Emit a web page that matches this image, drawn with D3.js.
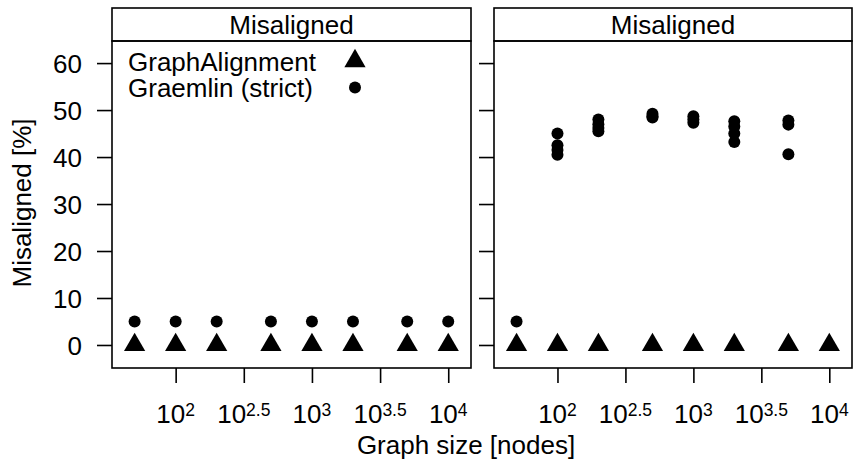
<!DOCTYPE html>
<html>
<head>
<meta charset="utf-8">
<script src="https://cdn.jsdelivr.net/npm/d3@7"></script>
<style>
  html, body { margin: 0; padding: 0; background: #fff; }
  svg { display: block; }
  text { font-family: "Liberation Sans", Arial, Helvetica, sans-serif; fill: #000; }
</style>
</head>
<body>
<svg id="chart" width="855" height="468"></svg>
<script>
// ---- data ----
const panelTitles = ["Misaligned", "Misaligned"];
const graphSizes = [50, 100, 200, 500, 1000, 2000, 5000, 10000];
const graphAlignmentLeft = [0, 0, 0, 0, 0, 0, 0, 0];
const graemlinLeft = [5, 5, 5, 5, 5, 5, 5, 5];
const graphAlignmentRight = [0, 0, 0, 0, 0, 0, 0, 0];
const graemlinRightSizes = [50, 100, 100, 100, 100, 200, 200, 200, 200, 500, 500, 500,
  1000, 1000, 1000, 2000, 2000, 2000, 2000, 5000, 5000, 5000];
const graemlinRightValues = [5, 45, 42.5, 41.5, 40.5, 48, 47, 46.2, 45.5, 49.2, 48.7, 48.4,
  48.7, 48, 47.3, 47.6, 46.5, 45, 43.2, 47.8, 46.9, 40.6];
const yTicks = [0, 10, 20, 30, 40, 50, 60];
const xTickExps = [2, 2.5, 3, 3.5, 4];
const legendLabels = ["GraphAlignment", "Graemlin (strict)"];
const xLabel = "Graph size [nodes]";
const yLabel = "Misaligned [%]";

// ---- layout ----
const svg = d3.select("#chart");
const fontSize = 26;
const panels = [
  { x0: 112, x1: 471, ga: graphAlignmentLeft, gaSizes: graphSizes,
    gr: graemlinLeft, grSizes: graphSizes, legend: true },
  { x0: 494, x1: 852, ga: graphAlignmentRight, gaSizes: graphSizes,
    gr: graemlinRightValues, grSizes: graemlinRightSizes, legend: false }
];
const stripTop = 8, stripBottom = 41, panelBottom = 368;

const y = d3.scaleLinear().domain([-4.9, 64.7]).range([panelBottom, stripBottom]);

const triSym = d3.symbol().type(d3.symbolTriangle).size(195);
const circleR = 6;

panels.forEach((p, i) => {
  const x = d3.scaleLog().domain([Math.pow(10, 1.533), Math.pow(10, 4.167)]).range([p.x0, p.x1]);
  const g = svg.append("g");

  // strip
  g.append("rect").attr("x", p.x0).attr("y", stripTop)
    .attr("width", p.x1 - p.x0).attr("height", stripBottom - stripTop)
    .attr("fill", "#fff").attr("stroke", "#000").attr("stroke-width", 1.6);
  g.append("text").attr("x", (p.x0 + p.x1) / 2).attr("y", 33.5)
    .attr("text-anchor", "middle").attr("font-size", fontSize).text(panelTitles[i]);

  // panel box
  g.append("rect").attr("x", p.x0).attr("y", stripBottom)
    .attr("width", p.x1 - p.x0).attr("height", panelBottom - stripBottom)
    .attr("fill", "none").attr("stroke", "#000").attr("stroke-width", 1.6);

  // y axis
  const yAxis = d3.axisLeft(y).tickValues(yTicks).tickSize(15).tickPadding(15)
    .tickFormat(i === 0 ? d3.format("d") : () => "");
  const ya = g.append("g").attr("transform", `translate(${p.x0},0)`).call(yAxis);
  ya.select(".domain").remove();
  ya.selectAll("line").attr("stroke", "#000").attr("stroke-width", 1.6);
  ya.selectAll("text").attr("font-size", fontSize).attr("font-family", "Liberation Sans, Arial, sans-serif")
    .attr("dy", "0.36em");

  // x axis
  const xAxis = d3.axisBottom(x).tickValues(xTickExps.map(e => Math.pow(10, e)))
    .tickSize(15).tickFormat(() => "");
  const xa = g.append("g").attr("transform", `translate(0,${panelBottom})`).call(xAxis);
  xa.select(".domain").remove();
  xa.selectAll("line").attr("stroke", "#000").attr("stroke-width", 1.6);
  xTickExps.forEach(e => {
    const t = g.append("text").attr("x", x(Math.pow(10, e))).attr("y", 422.5)
      .attr("text-anchor", "middle").attr("font-size", fontSize);
    t.append("tspan").text("10");
    t.append("tspan").attr("font-size", 17.5).attr("dy", -6.5).text(String(e));
  });

  // points
  g.selectAll(".tri").data(p.ga.map((v, k) => [p.gaSizes[k], v])).join("path")
    .attr("d", triSym)
    .attr("transform", d => `translate(${x(d[0])},${y(d[1])})`)
    .attr("fill", "#000");
  g.selectAll(".dot").data(p.gr.map((v, k) => [p.grSizes[k], v])).join("circle")
    .attr("cx", d => x(d[0])).attr("cy", d => y(d[1])).attr("r", circleR)
    .attr("fill", "#000");

  if (p.legend) {
    const lg = g.append("g");
    lg.append("text").attr("x", 128).attr("y", 71).attr("font-size", fontSize).text(legendLabels[0]);
    lg.append("text").attr("x", 128).attr("y", 96.5).attr("font-size", fontSize).text(legendLabels[1]);
    lg.append("path").attr("d", triSym).attr("transform", "translate(355,61)").attr("fill", "#000");
    lg.append("circle").attr("cx", 355).attr("cy", 87.5).attr("r", circleR).attr("fill", "#000");
  }
});

// axis titles
svg.append("text").attr("x", 466).attr("y", 453.5).attr("text-anchor", "middle")
  .attr("font-size", fontSize).text(xLabel);
svg.append("text").attr("transform", "translate(31,203) rotate(-90)")
  .attr("text-anchor", "middle").attr("font-size", fontSize).text(yLabel);
</script>
</body>
</html>
